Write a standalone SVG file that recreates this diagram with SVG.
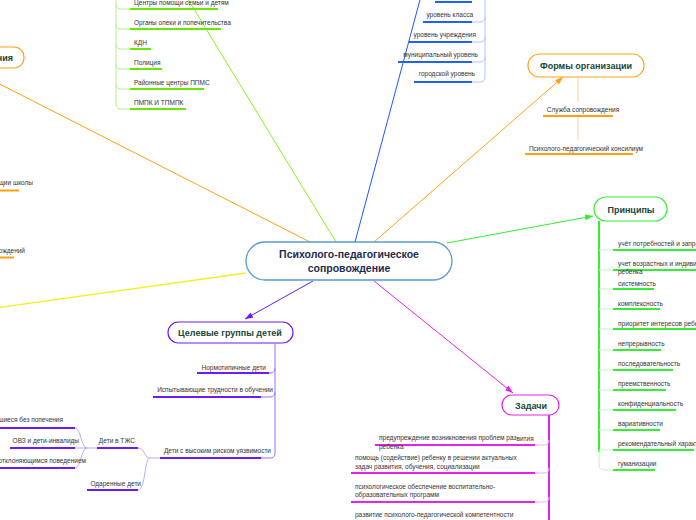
<svg xmlns="http://www.w3.org/2000/svg" width="696" height="520" viewBox="0 0 696 520">
<style>
.t{font-family:"Liberation Sans",Arial,sans-serif;font-size:6.5px;fill:#333}
.h{font-family:"Liberation Sans",Arial,sans-serif;font-size:9px;font-weight:bold;fill:#17463a}
.c{fill:none;stroke-width:1}
.u{fill:none;stroke-width:2}
</style>
<defs>
<marker id="aO" markerUnits="userSpaceOnUse" markerWidth="8" markerHeight="6" refX="8" refY="3" orient="auto"><path d="M0,0L8,3L0,6z" fill="#ffa010"/></marker>
<marker id="aG" markerUnits="userSpaceOnUse" markerWidth="8" markerHeight="6" refX="8" refY="3" orient="auto"><path d="M0,0L8,3L0,6z" fill="#33ee33"/></marker>
<marker id="aP" markerUnits="userSpaceOnUse" markerWidth="8" markerHeight="6" refX="8" refY="3" orient="auto"><path d="M0,0L8,3L0,6z" fill="#6a1bff"/></marker>
<marker id="aM" markerUnits="userSpaceOnUse" markerWidth="8" markerHeight="6" refX="8" refY="3" orient="auto"><path d="M0,0L8,3L0,6z" fill="#e822e8"/></marker>
</defs>
<rect width="696" height="520" fill="#fff"/>

<g id="connectors">
<path d="M310,242L-20,74" stroke="#ffa010" class="c"/>
<path d="M336,242L186,-4" stroke="#88f020" class="c"/>
<path d="M355,242L421,-4" stroke="#2255ff" class="c"/>
<path d="M374,242L563,77" stroke="#ffa010" class="c" marker-end="url(#aO)"/>
<path d="M447,243L593,216" stroke="#33ee33" class="c" marker-end="url(#aG)"/>
<path d="M246,273L-5,308" stroke="#f0f020" stroke-width="1.3" fill="none"/>
<path d="M313,281L245,319" stroke="#6a1bff" class="c" marker-end="url(#aP)"/>
<path d="M374,281L513,393" stroke="#e822e8" class="c" marker-end="url(#aM)"/>
</g>

<g id="center">
<rect x="246" y="242" width="206" height="38" rx="19" fill="#fff" stroke="#5b9bd5" stroke-width="1.3"/>
<text x="349" y="258" text-anchor="middle" font-family="Liberation Sans,Arial,sans-serif" font-size="10.5" font-weight="bold" fill="#1c2b4f">Психолого-педагогическое</text>
<text x="349" y="272" text-anchor="middle" font-family="Liberation Sans,Arial,sans-serif" font-size="10.5" font-weight="bold" fill="#1c2b4f">сопровождение</text>
</g>

<g id="left-node">
<rect x="-30" y="47" width="54" height="21" rx="10" fill="#fff" stroke="#ffa010" stroke-width="1.2"/>
<text x="13" y="60.5" text-anchor="end" class="h">ния</text>
<text x="33" y="185" text-anchor="end" class="t">щии школы</text>
<path d="M0,190.5H19" stroke="#ffa010" class="u"/>
<text x="25" y="253" text-anchor="end" class="t">ождений</text>
<path d="M0,257.5H14" stroke="#ffa010" class="u"/>
</g>

<g id="green-list">
<path d="M116,0V104Q116,109 121,109H130" stroke="#b8f090" class="c"/>
<path d="M116,4Q116,9 121,9H130M116,24Q116,29 121,29H130M116,44Q116,49 121,49H130M116,64Q116,69 121,69H130M116,84Q116,89 121,89H130" stroke="#b8f090" class="c"/>
<text x="134" y="4.5" class="t">Центры помощи семьи и детям</text>
<path d="M130,9H218" stroke="#66e800" class="u"/>
<text x="134" y="24.5" class="t">Органы опеки и попечительства</text>
<path d="M130,29H221" stroke="#66e800" class="u"/>
<text x="134" y="44.5" class="t">КДН</text>
<path d="M130,49H151" stroke="#66e800" class="u"/>
<text x="134" y="64.5" class="t">Полиция</text>
<path d="M130,69H162" stroke="#66e800" class="u"/>
<text x="134" y="84.5" class="t">Районные центры ППМС</text>
<path d="M130,89H204" stroke="#66e800" class="u"/>
<text x="134" y="104.5" class="t">ПМПК И ТПМПК</text>
<path d="M130,109H186" stroke="#66e800" class="u"/>
</g>

<g id="blue-list">
<path d="M485,0V77Q485,82 480,82H472M485,17Q485,22 480,22H472M485,37Q485,42 480,42H472M485,57Q485,62 480,62H472" stroke="#b0c8ff" class="c"/>
<path d="M435,2H472" stroke="#2060ff" class="u"/>
<text x="473" y="16.5" text-anchor="end" class="t">уровень класса</text>
<path d="M423,22H472" stroke="#2060ff" class="u"/>
<text x="476" y="36.5" text-anchor="end" class="t">уровень учреждения</text>
<path d="M409,42H472" stroke="#2060ff" class="u"/>
<text x="478" y="56.5" text-anchor="end" class="t">муниципальный уровень</text>
<path d="M398,62H472" stroke="#2060ff" class="u"/>
<text x="475" y="76" text-anchor="end" class="t">городской уровень</text>
<path d="M414,82H472" stroke="#2060ff" class="u"/>
</g>

<g id="formy">
<rect x="528" y="54" width="116" height="23" rx="11.5" fill="#fff" stroke="#ffa010" stroke-width="1.2"/>
<text x="586" y="69" text-anchor="middle" class="h">Формы организации</text>
<path d="M578,77V102M578,117V140" stroke="#ffd090" class="c"/>
<text x="583" y="111.5" text-anchor="middle" class="t">Служба сопровождения</text>
<path d="M543,116H613" stroke="#ffa010" class="u"/>
<text x="586" y="150.5" text-anchor="middle" class="t">Психолого-педагогический консилиум</text>
<path d="M525,154H633" stroke="#ffa010" class="u"/>
</g>

<g id="principy">
<rect x="594" y="197" width="73" height="24" rx="12" fill="#fff" stroke="#33ee33" stroke-width="1.2"/>
<text x="631" y="212.5" text-anchor="middle" class="h">Принципы</text>
<path d="M599,221V452" stroke="#33ee33" stroke-width="2" fill="none"/>
<path d="M599,450V465Q599,470 604,470H613" stroke="#c0f5c0" class="c"/>
<path d="M599,250H613M599,270H613M599,289H613M599,309H613M599,329H613M599,350H613M599,370H613M599,390H613M599,410H613M599,430H613M599,450H613" stroke="#c0f5c0" class="c"/>
<g stroke="#33ee33" class="u">
<path d="M613,250H696M613,270H696M613,289H654M613,309H660M613,329H696M613,350H661M613,370H673M613,390H666M613,410H676M613,430H660M613,450H694M613,470H655"/>
</g>
<text x="618" y="245.5" class="t">учёт потребностей и запро</text>
<text x="618" y="265.5" class="t">учет возрастных и индиви</text>
<text x="618" y="273.5" class="t">ребенка</text>
<text x="618" y="285.5" class="t">системность</text>
<text x="618" y="305.5" class="t">комплексность</text>
<text x="618" y="325.5" class="t">приоритет интересов ребе</text>
<text x="618" y="345.5" class="t">непрерывность</text>
<text x="618" y="365.5" class="t">последовательность</text>
<text x="618" y="385.5" class="t">преемственность</text>
<text x="618" y="405.5" class="t">конфиденциальность</text>
<text x="618" y="425.5" class="t">вариативности</text>
<text x="618" y="445.5" class="t">рекомендательный характ</text>
<text x="618" y="465.5" class="t">гуманизации</text>
</g>

<g id="celevye">
<rect x="168" y="322" width="125" height="21" rx="10.5" fill="#fff" stroke="#6a1bff" stroke-width="1.2"/>
<text x="230" y="336" text-anchor="middle" class="h">Целевые группы детей</text>
<path d="M275,343V453Q275,458 270,458H261M275,368Q275,373 270,373H269M275,392Q275,397 270,397H261" stroke="#9a70ff" class="c"/>
<text x="266" y="369.5" text-anchor="end" class="t">Нормотипичные дети</text>
<path d="M197,373H269" stroke="#6a1bff" class="u"/>
<text x="273" y="391.5" text-anchor="end" class="t">Испытывающие трудности в обучении</text>
<path d="M153,397H261" stroke="#6a1bff" class="u"/>
<text x="271" y="452.5" text-anchor="end" class="t">Дети с высоким риском уязвимости</text>
<path d="M160,458H261" stroke="#6a1bff" class="u"/>
<path d="M160,458H150C144,458 145,448 138,448M150,458C144,459 146,489 138,490" stroke="#c0a8ff" class="c"/>
<text x="135" y="442.5" text-anchor="end" class="t">Дети в ТЖС</text>
<path d="M97,448H138" stroke="#6a1bff" class="u"/>
<text x="141" y="485.5" text-anchor="end" class="t">Одаренные дети</text>
<path d="M87,490H138" stroke="#6a1bff" class="u"/>
<path d="M97,448H87C81,448 81,428 75,428M87,448C81,448 81,468 75,468M87,448H75" stroke="#c0a8ff" class="c"/>
<text x="63" y="421.5" text-anchor="end" class="t">шиеся без попечения</text>
<path d="M0,428H75" stroke="#6a1bff" class="u"/>
<text x="79" y="442.5" text-anchor="end" class="t">ОВЗ и дети-инвалиды</text>
<path d="M10,448H75" stroke="#6a1bff" class="u"/>
<text x="86" y="462.5" text-anchor="end" class="t">отклоняющимся поведением</text>
<path d="M0,468H75" stroke="#6a1bff" class="u"/>
</g>

<g id="zadachi">
<rect x="502" y="395" width="57" height="20" rx="10" fill="#fff" stroke="#e822e8" stroke-width="1.2"/>
<text x="531" y="408.5" text-anchor="middle" class="h">Задачи</text>
<path d="M549,415V520" stroke="#e822e8" stroke-width="2" fill="none"/>
<path d="M549,440Q549,445 544,445H535M549,468Q549,473 544,473H535M549,497Q549,502 544,502H535" stroke="#f5b0f5" class="c"/>
<path d="M375,445H535M351,473H535M351,502H535" stroke="#e822e8" class="u"/>
<text x="379" y="439.5" class="t">предупреждение возникновения проблем раз<tspan dy="1">вития</tspan></text>
<text x="379" y="448.5" class="t">ребенка</text>
<text x="355" y="459.5" class="t">помощь (содействие) ребенку в решении актуальных</text>
<text x="355" y="468.5" class="t">задач развития, обучения, социализации</text>
<text x="355" y="488.5" class="t">психологическое обеспечение воспитательно-</text>
<text x="355" y="496.5" class="t">образовательных программ</text>
<text x="355" y="516.5" class="t">развитие психолого-педагогической компетентности</text>
</g>
</svg>
